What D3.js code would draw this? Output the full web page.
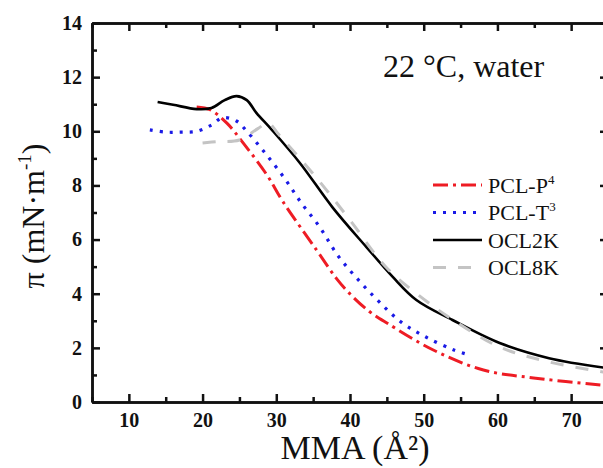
<!DOCTYPE html>
<head>
  <meta charset="utf-8">
  <script src="https://cdn.jsdelivr.net/npm/d3@7"></script>
  <style>
    body { margin: 0; background: #fff; }
    svg text { font-family: "Liberation Serif", "DejaVu Serif", "Noto Serif", "Times New Roman", Times, serif !important; }
    .tick text { font-weight: bold; font-size: 20px; fill: #111; }
    .domain, .tick line { stroke: #111; stroke-width: 2.5; }
  </style>
</head>
<body>
  <div id="chartDiv"></div>
  <script>

    // OCL2K (black, solid)
    var ocl2kX = [13.9, 16, 19.2, 21.2, 23, 24.6, 26, 27.3, 29.4, 33.2, 37.6, 42.2, 45.8, 49, 53.9, 60.3, 67, 75];
    var ocl2kY = [11.08, 10.98, 10.82, 10.86, 11.15, 11.3, 11.15, 10.68, 10.05, 8.83, 7.2, 5.73, 4.62, 3.77, 3.03, 2.18, 1.62, 1.25];

    // PCL-P4 (red, dash-dot)
    var pclPX = [19.2, 21, 23.3, 25.5, 28.7, 30.9, 35.5, 38.2, 40.4, 42.6, 45, 51.3, 58.1, 64.9, 75];
    var pclPY = [10.9, 10.8, 10.3, 9.57, 8.4, 7.4, 5.6, 4.55, 3.88, 3.35, 2.92, 1.92, 1.18, 0.89, 0.6];

    // PCL-T3 (blue, dotted)
    var pclTX = [12.85, 15, 17, 19.2, 21.2, 22.7, 24.6, 26.1, 28.7, 31.1, 33.4, 35.9, 38.3, 40.9, 43.7, 46.9, 50.3, 54.1, 56.4];
    var pclTY = [10.05, 9.97, 9.97, 10.0, 10.23, 10.5, 10.38, 9.97, 9.12, 8.27, 7.35, 6.46, 5.43, 4.58, 3.77, 2.96, 2.4, 1.92, 1.72];

    // OCL8K (grey, dashed)
    var ocl8kX = [20, 22, 25, 27.5, 28.9, 30.4, 35.4, 40, 45, 50, 53.5, 60.3, 67, 75];
    var ocl8kY = [9.57, 9.62, 9.68, 10.1, 10.3, 9.86, 8.3, 6.72, 4.95, 3.8, 3.12, 2.03, 1.48, 1.08];

    var xMajor = [10, 20, 30, 40, 50, 60, 70];
    var xMinor = [5, 15, 25, 35, 45, 55, 65, 75];
    var yMajor = [0, 2, 4, 6, 8, 10, 12, 14];
    var yMinor = [1, 3, 5, 7, 9, 11, 13];

    var series = [
      {name: "PCL-P", sup: "4", x: pclPX, y: pclPY, color: "#ee1c24", width: 3, dash: "15,5,3,5"},
      {name: "PCL-T", sup: "3", x: pclTX, y: pclTY, color: "#1a1ae6", width: 3.2, dash: "3,7"},
      {name: "OCL2K", sup: "", x: ocl2kX, y: ocl2kY, color: "#000000", width: 2.6, dash: null},
      {name: "OCL8K", sup: "", x: ocl8kX, y: ocl8kY, color: "#c4c4c4", width: 3, dash: "13,12"}
    ];

    var margin = {top: 23, left: 92};
    var width = 516;
    var height = 379;

    var svg = d3.select("#chartDiv").append("svg")
        .attr("width", 603)
        .attr("height", 468);

    var g = svg.append("g")
        .attr("transform", "translate(" + margin.left + "," + margin.top + ")");

    var x = d3.scaleLinear().domain([5, 75]).range([0, width]);
    var y = d3.scaleLinear().domain([0, 14]).range([height, 0]);

    g.append("clipPath").attr("id", "clip")
      .append("rect").attr("width", width).attr("height", height);

    // axes: major + minor ticks, all pointing inward
    g.append("g").attr("transform", "translate(0," + height + ")")
        .call(d3.axisBottom(x).tickValues(xMajor).tickSizeInner(-8).tickSizeOuter(0).tickPadding(11));
    g.append("g").attr("transform", "translate(0," + height + ")")
        .call(d3.axisBottom(x).tickValues(xMinor).tickSizeInner(-5).tickSizeOuter(0).tickFormat(""));
    g.append("g")
        .call(d3.axisTop(x).tickValues(xMajor).tickSizeInner(-8).tickSizeOuter(0).tickFormat(""));
    g.append("g")
        .call(d3.axisTop(x).tickValues(xMinor).tickSizeInner(-5).tickSizeOuter(0).tickFormat(""));

    g.append("g")
        .call(d3.axisLeft(y).tickValues(yMajor).tickSizeInner(-8).tickSizeOuter(0).tickPadding(10));
    g.append("g")
        .call(d3.axisLeft(y).tickValues(yMinor).tickSizeInner(-5).tickSizeOuter(0).tickFormat(""));
    g.append("g").attr("transform", "translate(" + width + ",0)")
        .call(d3.axisRight(y).tickValues(yMajor).tickSizeInner(-8).tickSizeOuter(0).tickFormat(""));
    g.append("g").attr("transform", "translate(" + width + ",0)")
        .call(d3.axisRight(y).tickValues(yMinor).tickSizeInner(-5).tickSizeOuter(0).tickFormat(""));

    g.selectAll("g").attr("font-family", null);

    var line = d3.line()
        .x(function(d) { return x(d[0]); })
        .y(function(d) { return y(d[1]); })
        .curve(d3.curveCatmullRom.alpha(0.5));

    var plot = g.append("g").attr("clip-path", "url(#clip)");

    series.forEach(function(s) {
      var pts = s.x.map(function(v, i) { return [v, s.y[i]]; });
      plot.append("path")
          .attr("d", line(pts))
          .attr("fill", "none")
          .attr("stroke", s.color)
          .attr("stroke-width", s.width)
          .attr("stroke-dasharray", s.dash);
    });

    // legend
    var legend = svg.append("g").attr("transform", "translate(433,185)");
    series.forEach(function(s, i) {
      var row = legend.append("g").attr("transform", "translate(0," + (i * 27.5) + ")");
      row.append("line")
          .attr("x1", 0).attr("x2", 49)
          .attr("stroke", s.color)
          .attr("stroke-width", s.width)
          .attr("stroke-dasharray", s.dash);
      var t = row.append("text")
          .attr("x", 55).attr("y", 7.5)
          .style("font-size", "22px")
          .attr("fill", "#111")
          .text(s.name);
      if (s.sup) {
        t.append("tspan").attr("dy", -9).style("font-size", "13px").text(s.sup);
      }
    });

    svg.append("text")
        .attr("x", 383).attr("y", 77)
        .style("font-size", "32px")
        .attr("fill", "#111")
        .text("22 \u00B0C, water");

    svg.append("text")
        .attr("x", 355).attr("y", 459)
        .attr("text-anchor", "middle")
        .style("font-size", "34px")
        .attr("fill", "#111")
        .text("MMA (\u00C5\u00B2)");

    var yl = svg.append("text")
        .attr("transform", "translate(44,216) rotate(-90)")
        .attr("text-anchor", "middle")
        .style("font-size", "32px")
        .attr("fill", "#111");
    yl.append("tspan").text("\u03C0 (mN\u00B7m");
    yl.append("tspan").attr("dy", -13).style("font-size", "19px").text("-1");
    yl.append("tspan").attr("dy", 13).text(")");

  </script>
</body>
